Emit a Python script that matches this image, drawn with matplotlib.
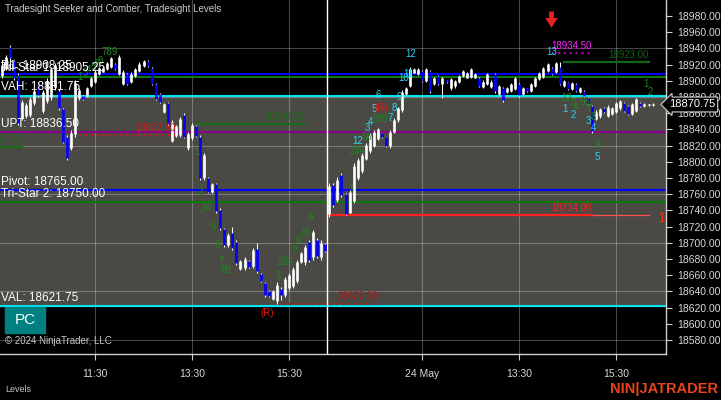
import matplotlib
matplotlib.use('Agg')
import matplotlib.pyplot as plt
from matplotlib.patches import Rectangle
import matplotlib.transforms as mtransforms

plt.rcParams['font.family'] = ['Liberation Sans', 'DejaVu Sans']

# ---------------- data (5-minute bars, 23 May + 24 May sessions) ----------------
opens = [18906, 18915, 18942, 18924, 18907, 18854, 18856, 18858, 18872, 18896,
         18863, 18875, 18880, 18892, 18888, 18865, 18831, 18817, 18834, 18879,
         18881, 18881, 18894, 18899, 18908, 18911, 18914, 18917, 18921, 18909,
         18896, 18908, 18898, 18906, 18912, 18918, 18925, 18916, 18896, 18884,
         18862, 18872, 18826, 18832, 18833, 18858, 18817, 18829, 18844, 18831,
         18780, 18780, 18763, 18772, 18741, 18717, 18697, 18712, 18701, 18668,
         18669, 18677, 18671, 18692, 18662, 18650, 18640, 18631, 18628, 18643,
         18636, 18644, 18647, 18653, 18676, 18676, 18701, 18682, 18704, 18682,
         18698,
         18735, 18771, 18753, 18784, 18760, 18737, 18752, 18780, 18789, 18804,
         18813, 18820, 18828, 18835, 18830, 18819, 18837, 18851, 18864, 18884,
         18894, 18910, 18908, 18912, 18900, 18912, 18896, 18906, 18896, 18900.5,
         18891, 18893, 18898, 18906, 18904, 18905, 18904, 18904, 18892, 18896,
         18892, 18908, 18884, 18891, 18886, 18887, 18890, 18896, 18884, 18891,
         18887, 18894, 18902, 18905, 18912, 18916, 18911, 18917, 18894, 18898,
         18890, 18896, 18886, 18888, 18879, 18869, 18853, 18856, 18867, 18857,
         18859, 18862, 18866, 18873, 18869, 18859, 18863, 18873, 18869, 18870,
         18870]
highs = [18923, 18931.75, 18944.25, 18925.75, 18909.5, 18876.25, 18872.5, 18880, 18891, 18898.5,
         18888.75, 18903.5, 18917, 18922, 18890, 18866.5, 18833, 18839.25, 18901, 18891,
         18882.5, 18892.5, 18904.75, 18913.25, 18917, 18917, 18923.25, 18929.5, 18922, 18931.75,
         18913.25, 18909.5, 18910.75, 18915.75, 18923.25, 18925.75, 18925.75, 18917, 18897.25, 18885,
         18872.5, 18873.75, 18851.5, 18845.5, 18855.25, 18860.25, 18836.75, 18848, 18845.5, 18833,
         18810.75, 18781.25, 18773.75, 18773.75, 18743, 18718.25, 18712, 18719.5, 18703.5, 18678.75,
         18682.5, 18678.75, 18693.5, 18699.75, 18662.75, 18651.5, 18641.75, 18641.75, 18651.5, 18645.5,
         18657.75, 18662.75, 18670, 18678.75, 18688.5, 18697.25, 18703.5, 18715.75, 18706, 18703.5,
         18699.75,
         18773.75, 18773.75, 18781.25, 18786.25, 18761.5, 18765.25, 18798.5, 18804.75, 18810.75, 18823.25,
         18835.5, 18839.25, 18841.75, 18835.5, 18830.5, 18839.25, 18854, 18867.75, 18888.75, 18892.5,
         18917, 18915.75, 18915.75, 18913.25, 18915.75, 18913.25, 18904.75, 18907.25, 18904.75, 18901,
         18903.5, 18901, 18907.25, 18913.25, 18910.75, 18915.75, 18909.5, 18904.75, 18901, 18909.5,
         18901, 18909.5, 18894.75, 18892.5, 18892.5, 18897.25, 18904.75, 18897.25, 18892.5, 18891.25,
         18897.25, 18904.75, 18910.75, 18917, 18922, 18917, 18923.25, 18923.25, 18901, 18898.5,
         18898.5, 18897.25, 18892.5, 18888.75, 18880, 18870, 18864, 18866.5, 18867.75, 18870,
         18867.75, 18874, 18876.25, 18874, 18870, 18872.5, 18878.75, 18874, 18872.5, 18871.75,
         18872.5]
lows = [18903.5, 18913.25, 18913.25, 18901, 18845.5, 18851.5, 18854, 18855.25, 18870, 18880,
        18860.25, 18872.5, 18876.25, 18888.75, 18864, 18823, 18802.25, 18814.5, 18830.5, 18876.25,
        18876.25, 18880, 18892.5, 18897.25, 18907.25, 18910.75, 18913.25, 18915.75, 18913.25, 18907.25,
        18894.75, 18894.75, 18897.25, 18904.75, 18910.75, 18917, 18917, 18894.75, 18876.25, 18872.5,
        18860.25, 18845.5, 18824.5, 18830.5, 18830.5, 18829.25, 18814.5, 18827, 18830.5, 18777.5,
        18777.5, 18761.5, 18761.5, 18736.75, 18715.75, 18694.75, 18694.75, 18691, 18672.5, 18666.5,
        18666.5, 18669, 18669, 18662.75, 18651.5, 18633, 18633, 18629.5, 18625, 18629.5,
        18633, 18641.75, 18644.25, 18650.25, 18675, 18672.5, 18676.25, 18678.75, 18681.25, 18678.75,
        18688.5,
        18731.75, 18744.25, 18750.25, 18756.5, 18734, 18737, 18749, 18777.5, 18786.25, 18802.25,
        18810.75, 18818.25, 18826.75, 18829.25, 18818.25, 18817, 18835.5, 18849.25, 18861.5, 18882.5,
        18892.5, 18909.5, 18907.25, 18898.5, 18898.5, 18885, 18894.75, 18894.75, 18878.75, 18897.25,
        18888.75, 18891, 18897.25, 18904.75, 18903.5, 18903.5, 18903.5, 18892.5, 18891, 18894.75,
        18891, 18885, 18882.5, 18873.75, 18885, 18886.25, 18888.75, 18880, 18882.5, 18886.25,
        18886.25, 18892.5, 18901, 18903.5, 18910.75, 18907.25, 18909.5, 18894.75, 18892.5, 18888.75,
        18888.75, 18886.25, 18885, 18880, 18870, 18835.5, 18851.5, 18854, 18860.25, 18855.25,
        18857.75, 18860.25, 18864, 18861.5, 18857.75, 18857.75, 18861.5, 18867.75, 18867.75, 18869,
        18869]
closes = [18920, 18929, 18928, 18903, 18848, 18874, 18870, 18877, 18888, 18882,
          18886, 18900, 18914, 18919, 18866, 18825, 18805, 18836, 18897, 18889,
          18877, 18891, 18903, 18911, 18916, 18916, 18922, 18928, 18914, 18929,
          18911, 18896, 18909, 18914, 18921, 18924, 18918, 18896, 18878, 18874,
          18871, 18847, 18849, 18844, 18853, 18831, 18834, 18846, 18832, 18780,
          18808, 18763, 18772, 18739, 18718, 18697, 18710, 18693, 18675, 18677,
          18680, 18670, 18691, 18665, 18653, 18635, 18634, 18640, 18648, 18636,
          18655, 18660, 18668, 18676, 18687, 18695, 18679, 18713, 18684, 18700,
          18690,
          18770, 18747, 18778, 18759, 18736, 18763, 18795, 18802, 18808, 18821,
          18833, 18837, 18840, 18830, 18820, 18837, 18852, 18866, 18886, 18891,
          18915, 18915, 18915, 18900, 18914, 18887, 18903, 18896, 18903, 18898,
          18902, 18900, 18906, 18912, 18910, 18914, 18909, 18894, 18899, 18908,
          18899, 18887, 18893, 18876, 18891, 18896, 18903, 18882, 18891, 18887,
          18896, 18903, 18910, 18916, 18921, 18909, 18922, 18896, 18900, 18890,
          18897, 18888, 18891, 18881, 18871, 18838, 18862, 18865, 18861, 18868,
          18866, 18872, 18875, 18863, 18859, 18871, 18877, 18869, 18871, 18871,
          18870.75]

session_break = 80.5
tick_bars = [23, 47, 71, 104, 128, 152]
tick_labels = ['11:30', '13:30', '15:30', '24 May', '13:30', '15:30']
price_ticks = list(range(18580, 18981, 20))
grid_prices = [18580, 18640, 18700, 18760, 18820, 18880, 18940]

VAH, VAL = 18881.75, 18621.75
full_levels = [  # (price, color, label)
    (18908.25, '#0000ff', 'R1: 18908.25'),
    (18905.25, '#0a7a0a', 'Tri-Star 1: 18905.25'),
    (VAH, '#00e5ee', 'VAH: 18881.75'),
    (18836.50, '#8b008b', 'UPT: 18836.50'),
    (18765.00, '#0000ff', 'Pivot: 18765.00'),
    (18750.00, '#0a7a0a', 'Tri-Star 2: 18750.00'),
    (VAL, '#00e5ee', 'VAL: 18621.75'),
]
# short projected levels: (price, start bar, end bar, color, style, label)
seg_levels = [
    (18817.75, -5, 5, '#1a6e1a', '-', '18817.75'),
    (18832.50, 19, 43, '#c81e1e', ':', '18832.50'),
    (18846.25, 48, 75, '#1a6e1a', '-', '18846.25'),
    (18625.00, 68, 93, '#b01818', ':', '18625.00'),
    (18734.00, 81, 146, '#ff2020', '-', '18734.00'),
    (18934.50, 136, 146, '#a000a0', ':', '18934.50'),
    (18923.00, 139, 160, '#146414', '-', '18923.00'),
]
GREEN, CYAN, RED = '#1c8a1c', '#2fd4f0', '#e01818'
counts = [  # (bar, price, text, color)
    (26.7, 18935.5, '789', GREEN),
    (19.3, 18904.7, '1', GREEN), (20.5, 18909.6, '3', GREEN), (21.5, 18913.3, '4', GREEN),
    (22.5, 18917.0, '5', GREEN), (23.5, 18920.7, '6', GREEN), (24.3, 18924.0, '8', GREEN),
    (48.3, 18812.0, '1', GREEN), (49.0, 18762.7, '2', GREEN), (50.4, 18743.0, '34', GREEN),
    (52.2, 18719.5, '5', GREEN), (53.2, 18697.3, '6', GREEN), (54.2, 18677.5, '7', GREEN),
    (55.4, 18666.4, '89', GREEN),
    (68.3, 18660.3, '1', GREEN), (70.2, 18676.3, '234', GREEN), (72.3, 18693.5, '5', GREEN),
    (73.3, 18703.5, '6', GREEN), (75.0, 18712.0, '78', GREEN), (76.2, 18730.6, '9', GREEN),
    (86.4, 18767.6, '1', GREEN), (88.1, 18813.3, '234', GREEN), (90.3, 18830.6, '56', GREEN),
    (93.4, 18852.8, '789', GREEN),
    (88.1, 18825.7, '12', CYAN), (90.3, 18841.7, '3', CYAN), (91.3, 18849.1, '4', CYAN),
    (92.1, 18865.2, '5', CYAN), (93.0, 18882.5, '6', CYAN), (96.0, 18854.1, '7', CYAN),
    (97.0, 18866.4, '8', CYAN), (98.2, 18880.0, '9', CYAN), (99.4, 18903.5, '10', CYAN),
    (100.5, 18908.4, '11', CYAN), (101.2, 18933.1, '12', CYAN), (136.1, 18935.6, '13', CYAN),
    (93.8, 18866.4, '(R)', RED), (65.6, 18613.3, '(R)', RED),
    (139.8, 18878.7, '12', GREEN), (141.3, 18872.6, '3', GREEN), (142.3, 18867.7, '4', GREEN),
    (143.5, 18873.8, '5', GREEN), (144.5, 18873.8, '6', GREEN), (145.3, 18865.2, '7', GREEN),
    (146.3, 18855.3, '8', GREEN), (147.2, 18820.7, '9', GREEN),
    (139.3, 18865.2, '1', CYAN), (141.3, 18857.8, '2', CYAN), (145.0, 18850.4, '3', CYAN),
    (146.3, 18841.7, '4', CYAN), (147.2, 18805.9, '5', CYAN),
    (159.4, 18896.0, '1', GREEN), (160.4, 18886.2, '2', GREEN),
]
signal_bar = 136
last_price = closes[-1]

# ---------------- figure ----------------
W, H = 721, 400
fig = plt.figure(figsize=(W / 100, H / 100), dpi=100, facecolor='black')
AX_R, AX_B = 666, 354
ax = fig.add_axes([0, (H - AX_B) / H, AX_R / W, AX_B / H], facecolor='black')
ax.set_xlim(-0.52, 164.33)
ax.set_ylim(18562.7, 18999.75)

ax.axhspan(VAL, VAH, color='#4a4944', zorder=0)
for gp in grid_prices:
    ax.axhline(gp, color='white', alpha=0.27, lw=0.8, zorder=1)
for tb in tick_bars:
    ax.axvline(tb, color='white', alpha=0.27, lw=0.8, zorder=1)
ax.axvline(session_break, color='white', lw=1.0, zorder=2.5)

for price, col, lab in full_levels:
    ax.axhline(price, color=col, lw=1.5, zorder=2)

for price, b0, b1, col, ls, lab in seg_levels:
    ax.plot([b0, b1], [price, price], color=col, lw=1.6, ls=ls, zorder=2)
    ax.annotate(lab, (b1, price), xytext=(0, 1.5), textcoords='offset points',
                ha='right', va='bottom', color=col if col != '#a000a0' else '#ff20ff',
                fontsize=7, zorder=5, annotation_clip=False, clip_on=True)
# fading tail of the 18734 line
ax.plot([146, 160], [18734.0, 18734.0], color='#ff5050', lw=0.9, zorder=2)
ax.text(162.3, 18730.5, '1', color='#e83a10', fontsize=11, ha='left', va='center',
        clip_on=True, zorder=5)

# candles
x = list(range(len(opens)))
up_col, dn_col = 'white', '#0000ff'
ax.vlines(x, lows, highs, color='white', lw=0.75, zorder=3)
for i in x:
    o, c = opens[i], closes[i]
    col = up_col if c >= o else dn_col
    lo, hi = min(o, c), max(o, c)
    if hi - lo < 0.8:
        hi = lo + 0.8
    ax.vlines(i, lo, hi, color=col, lw=1.9, zorder=3.2)

# counts
for b, p, t, col in counts:
    ax.text(b, p, t, color=col, fontsize=7, ha='center', va='center', zorder=5, clip_on=True)

# signal arrow
ax.annotate('', xy=(signal_bar, 18965.5), xytext=(signal_bar, 18985.5),
            arrowprops=dict(arrowstyle='simple,head_width=0.9,head_length=0.7,tail_width=0.35',
                            fc='#e82020', ec='none', mutation_scale=10,
                            shrinkA=0, shrinkB=0), zorder=6)

# level labels on the left
for price, col, lab in full_levels:
    ax.annotate(lab, (0.0015, price), xycoords=('axes fraction', 'data'),
                xytext=(0, 1.5), textcoords='offset points', ha='left', va='bottom',
                color='white', fontsize=8.5, zorder=6)

# axes styling
for s in ['top', 'left']:
    ax.spines[s].set_visible(False)
for s in ['right', 'bottom']:
    ax.spines[s].set_color('#d0d0d0')
    ax.spines[s].set_linewidth(1.0)
ax.yaxis.tick_right()
ax.set_yticks(price_ticks)
ax.set_yticklabels([f'{v:.2f}' for v in price_ticks])
ax.set_xticks(tick_bars)
ax.set_xticklabels(tick_labels)
ax.tick_params(axis='y', colors='#d0d0d0', labelsize=7.5, length=4.5, width=0.8, pad=3.5,
               labelcolor='#d8d8d8')
ax.tick_params(axis='x', colors='#d0d0d0', labelsize=7.5, length=4.5, width=0.8, pad=6,
               labelcolor='#d8d8d8')

# last price marker
tr = mtransforms.blended_transform_factory(fig.transFigure, ax.transData)
ax.text(669 / W, last_price, f'{last_price:.2f}', transform=tr, color='white', fontsize=8,
        ha='left', va='center', zorder=10, clip_on=False,
        bbox=dict(boxstyle='larrow,pad=0.22', fc='black', ec='#d0d0d0', lw=0.8))

# overlay texts
fig.text(5 / W, 1 - 9 / H, 'Tradesight Seeker and Comber, Tradesight Levels', color='#c8c8c8',
         fontsize=7, ha='left', va='center')
ax.add_patch(Rectangle((5 / AX_R, (AX_B - 333) / AX_B), 40 / AX_R, 26 / AX_B,
                       transform=ax.transAxes, color='#008080', zorder=7))
ax.text(25 / AX_R, (AX_B - 320) / AX_B, 'PC', transform=ax.transAxes, color='white',
        fontsize=11, ha='center', va='center', zorder=8)
ax.text(5 / AX_R, (AX_B - 341) / AX_B, '© 2024 NinjaTrader, LLC', transform=ax.transAxes,
        color='#c8c8c8', fontsize=7, ha='left', va='center', zorder=8)
fig.text(5 / W, 1 - 390 / H, 'Levels', color='#c8c8c8', fontsize=6.5, ha='left', va='center')
fig.text(718 / W, 1 - 389 / H, 'NIN|JATRADER', color='#e8451e', fontsize=10.5,
         fontweight='bold', ha='right', va='center')

fig.savefig('out.png', dpi=100, facecolor='black')
